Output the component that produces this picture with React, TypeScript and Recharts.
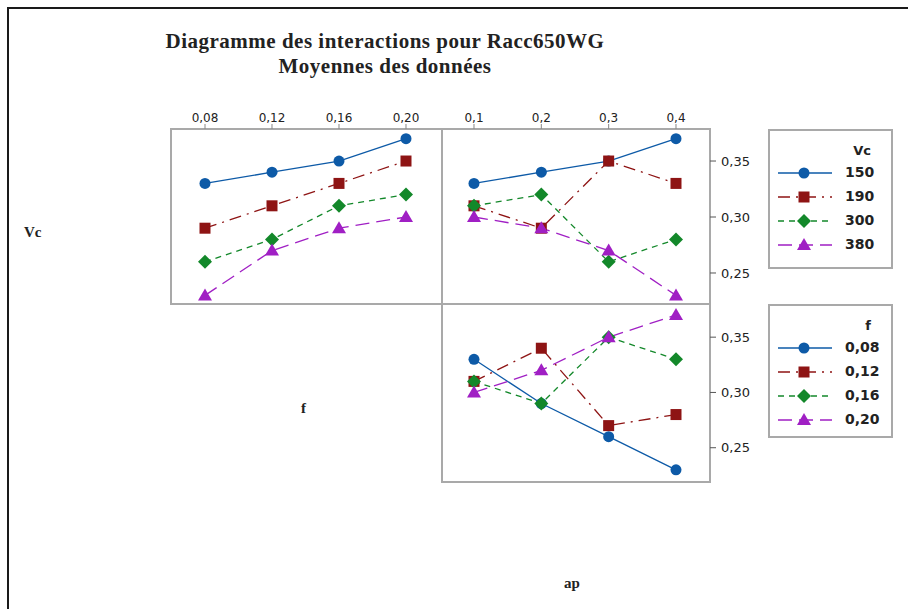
import React from 'react';
import { LineChart, Line, XAxis, YAxis } from 'recharts';

const fTicks = [0.08, 0.12, 0.16, 0.2];
const apTicks = [0.1, 0.2, 0.3, 0.4];
const yTicks = [0.25, 0.3, 0.35];

const vcLabels = ['150', '190', '300', '380'];
const fLabels = ['0,08', '0,12', '0,16', '0,20'];

// Vc means vs f
const vc150ByF = [0.33, 0.34, 0.35, 0.37];
const vc190ByF = [0.29, 0.31, 0.33, 0.35];
const vc300ByF = [0.26, 0.28, 0.31, 0.32];
const vc380ByF = [0.23, 0.27, 0.29, 0.3];

// Vc means vs ap
const vc150ByAp = [0.33, 0.34, 0.35, 0.37];
const vc190ByAp = [0.31, 0.29, 0.35, 0.33];
const vc300ByAp = [0.31, 0.32, 0.26, 0.28];
const vc380ByAp = [0.3, 0.29, 0.27, 0.23];

// f means vs ap
const f008ByAp = [0.33, 0.29, 0.26, 0.23];
const f012ByAp = [0.31, 0.34, 0.27, 0.28];
const f016ByAp = [0.31, 0.29, 0.35, 0.33];
const f020ByAp = [0.3, 0.32, 0.35, 0.37];

const colors = ['#0d5aa7', '#8e1414', '#13882a', '#a01fc4'];
const dashes = [undefined, '12 6 2 6', '6 5', '14 7'];
const shapes = ['circle', 'square', 'diamond', 'triangle'];

const build = (xs: number[], series: number[][]) =>
  xs.map((x, i) => ({ x, s0: series[0][i], s1: series[1][i], s2: series[2][i], s3: series[3][i] }));

const dataVcF = build(fTicks, [vc150ByF, vc190ByF, vc300ByF, vc380ByF]);
const dataVcAp = build(apTicks, [vc150ByAp, vc190ByAp, vc300ByAp, vc380ByAp]);
const dataFAp = build(apTicks, [f008ByAp, f012ByAp, f016ByAp, f020ByAp]);

const Marker = ({ shape, cx, cy, color }: any) => {
  if (shape === 'circle') return <circle cx={cx} cy={cy} r={5.5} fill={color} />;
  if (shape === 'square') return <rect x={cx - 5.5} y={cy - 5.5} width={11} height={11} fill={color} />;
  if (shape === 'diamond')
    return <polygon points={`${cx},${cy - 7} ${cx + 7},${cy} ${cx},${cy + 7} ${cx - 7},${cy}`} fill={color} />;
  return <polygon points={`${cx},${cy - 7} ${cx + 7},${cy + 5} ${cx - 7},${cy + 5}`} fill={color} />;
};

const makeDot = (i: number) => (props: any) => {
  const { cx, cy, index } = props;
  return <Marker key={`d${i}-${index}`} shape={shapes[i]} cx={cx} cy={cy} color={colors[i]} />;
};

const fmt = (v: number) => v.toString().replace('.', ',');
const fmt2 = (v: number) => v.toFixed(2).replace('.', ',');

const tickStyle = { fontFamily: '"DejaVu Sans", sans-serif', fontSize: 12, fill: '#222' };
const rightTickStyle = { fontFamily: '"DejaVu Sans", sans-serif', fontSize: 13, fill: '#222' };

const lines = () =>
  [0, 1, 2, 3].map((i) => (
    <Line
      key={i}
      type="linear"
      dataKey={`s${i}`}
      stroke={colors[i]}
      strokeWidth={1.3}
      strokeDasharray={dashes[i]}
      dot={makeDot(i)}
      activeDot={false}
      isAnimationActive={false}
    />
  ));

const yDomTop: [number, number] = [0.2223, 0.3786];
const yDomBot: [number, number] = [0.219, 0.38];

const panelBorder = (left: number, top: number, w: number, h: number) => (
  <div
    style={{
      position: 'absolute',
      left,
      top,
      width: w,
      height: h,
      border: '2px solid #a9a9a9',
      boxSizing: 'border-box',
    }}
  />
);

const LegendBox = ({ left, top, height, title, labels }: any) => (
  <div
    style={{
      position: 'absolute',
      left,
      top,
      width: 125,
      height,
      border: '2px solid #a9a9a9',
      boxSizing: 'border-box',
    }}
  >
    <div
      style={{
        position: 'absolute',
        right: 20,
        top: 12,
        fontFamily: '"DejaVu Sans", sans-serif',
        fontWeight: 'bold',
        fontSize: 13,
        color: '#222',
      }}
    >
      {title}
    </div>
    {labels.map((lab: string, i: number) => (
      <div key={i} style={{ position: 'absolute', left: 6, top: 34 + i * 24, height: 16, width: 115 }}>
        <svg width={60} height={16} style={{ position: 'absolute', left: 0, top: 0 }}>
          <line x1={2} y1={8} x2={56} y2={8} stroke={colors[i]} strokeWidth={1.3} strokeDasharray={dashes[i]} />
          <Marker shape={shapes[i]} cx={28} cy={8} color={colors[i]} />
        </svg>
        <span
          style={{
            position: 'absolute',
            left: 69,
            top: -1,
            fontFamily: '"DejaVu Sans", sans-serif',
            fontWeight: 'bold',
            fontSize: 14,
            color: '#222',
          }}
        >
          {lab}
        </span>
      </div>
    ))}
  </div>
);

const textBase: React.CSSProperties = {
  position: 'absolute',
  fontFamily: '"Liberation Serif", serif',
  fontWeight: 'bold',
  color: '#222',
  whiteSpace: 'nowrap',
};

export default function App() {
  return (
    <div style={{ position: 'absolute', left: 0, top: 0, width: 908, height: 609, background: '#fff', overflow: 'hidden' }}>
      <div
        style={{
          position: 'absolute',
          left: 7,
          top: 7,
          width: 910,
          height: 610,
          borderTop: '2px solid #1a1a1a',
          borderLeft: '2px solid #1a1a1a',
        }}
      />
      <div style={{ ...textBase, left: 0, width: 770, top: 29, textAlign: 'center', fontSize: 21, lineHeight: '25px', letterSpacing: 0.5 }}>
        Diagramme des interactions pour Racc650WG
        <br />
        Moyennes des données
      </div>
      <div style={{ ...textBase, left: 24, top: 224, fontSize: 15 }}>Vc</div>
      <div style={{ ...textBase, left: 301, top: 400, fontSize: 15 }}>f</div>
      <div style={{ ...textBase, left: 564, top: 575, fontSize: 15 }}>ap</div>

      {panelBorder(170, 128, 273, 177)}
      {panelBorder(441, 128, 270, 177)}
      {panelBorder(441, 303, 270, 180)}

      <div style={{ position: 'absolute', left: 171, top: 100 }}>
        <LineChart width={270} height={204} data={dataVcF} margin={{ top: 0, right: 0, bottom: 0, left: 0 }}>
          <XAxis
            dataKey="x"
            type="number"
            orientation="top"
            domain={[0.0597, 0.2209]}
            ticks={fTicks}
            tickFormatter={fmt2}
            allowDataOverflow
            height={29}
            axisLine={false}
            tickSize={5}
            tickLine={{ stroke: '#888' }}
            tick={tickStyle}
          />
          <YAxis hide type="number" domain={yDomTop} allowDataOverflow />
          {lines()}
        </LineChart>
      </div>

      <div style={{ position: 'absolute', left: 441, top: 100 }}>
        <LineChart width={329} height={204} data={dataVcAp} margin={{ top: 0, right: 0, bottom: 0, left: 0 }}>
          <XAxis
            dataKey="x"
            type="number"
            orientation="top"
            domain={[0.051, 0.4505]}
            ticks={apTicks}
            tickFormatter={fmt}
            allowDataOverflow
            height={29}
            axisLine={false}
            tickSize={5}
            tickLine={{ stroke: '#888' }}
            tick={tickStyle}
          />
          <YAxis
            type="number"
            orientation="right"
            domain={yDomTop}
            ticks={yTicks}
            tickFormatter={fmt2}
            allowDataOverflow
            width={60}
            axisLine={false}
            tickSize={6}
            tickMargin={5}
            tickLine={{ stroke: '#555' }}
            tick={rightTickStyle}
          />
          {lines()}
        </LineChart>
      </div>

      <div style={{ position: 'absolute', left: 441, top: 304 }}>
        <LineChart width={329} height={178} data={dataFAp} margin={{ top: 0, right: 0, bottom: 0, left: 0 }}>
          <XAxis dataKey="x" type="number" hide domain={[0.051, 0.4505]} allowDataOverflow />
          <YAxis
            type="number"
            orientation="right"
            domain={yDomBot}
            ticks={yTicks}
            tickFormatter={fmt2}
            allowDataOverflow
            width={60}
            axisLine={false}
            tickSize={6}
            tickMargin={5}
            tickLine={{ stroke: '#555' }}
            tick={rightTickStyle}
          />
          {lines()}
        </LineChart>
      </div>

      <LegendBox left={768} top={129} height={140} title="Vc" labels={vcLabels} />
      <LegendBox left={768} top={304} height={134} title="f" labels={fLabels} />
    </div>
  );
}
